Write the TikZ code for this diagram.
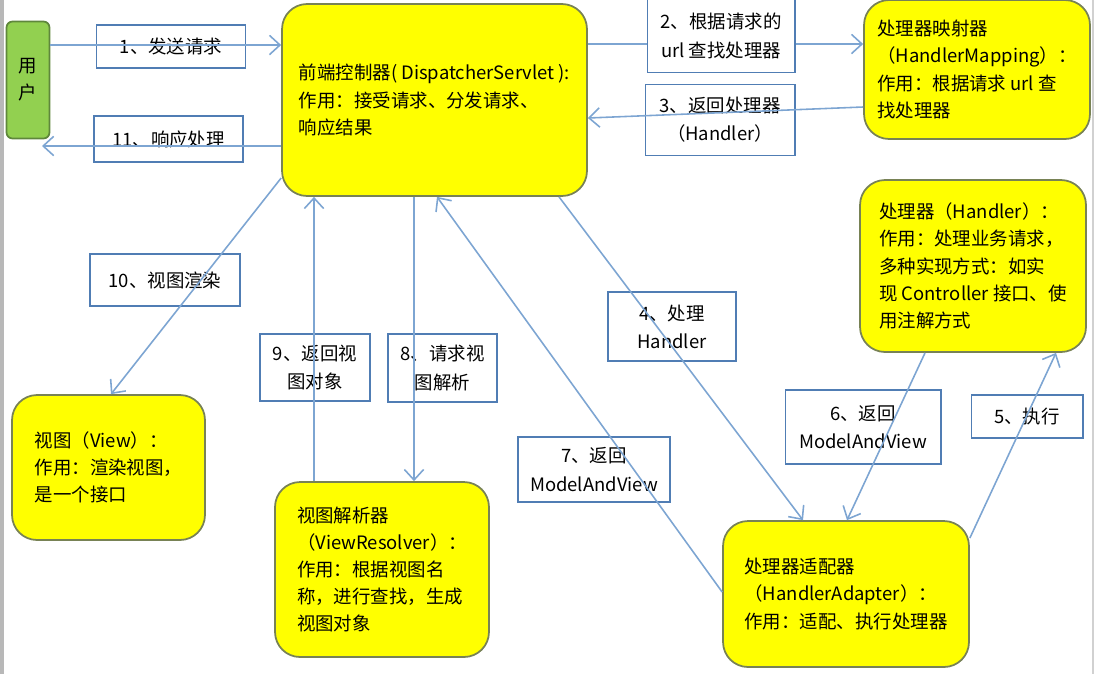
\documentclass[tikz,border=0pt]{standalone}
\usepackage{fontspec}
\setmainfont{Noto Sans CJK SC}
\usetikzlibrary{arrows.meta, positioning, calc}
\usepackage{xcolor}
\definecolor{giallo}{RGB}{255,255,0}
\definecolor{bordooliva}{RGB}{120,130,85}
\definecolor{verde}{RGB}{146,208,80}
\definecolor{bordoverde}{RGB}{95,135,60}
\definecolor{azzurro}{RGB}{125,165,210}
\definecolor{bluetta}{RGB}{80,125,180}

\begin{document}
\begin{tikzpicture}[
  x=0.02cm, y=-0.02cm,
  font=\fontsize{10.5}{15.5}\selectfont,
  componente/.style={draw=bordooliva, fill=giallo, line width=1pt, rounded corners=0.5cm,
                     align=left, inner sep=0pt},
  utente/.style={draw=bordoverde, fill=verde, line width=1pt, rounded corners=0.12cm,
                 align=center, inner sep=0pt, minimum width=0.86cm, minimum height=2.34cm},
  passo/.style={draw=bluetta, line width=0.6pt, align=center, inner sep=0pt,
                font=\fontsize{10.5}{16}\selectfont},
  freccia/.style={draw=azzurro, line width=0.9pt, -{Straight Barb[length=6pt,width=11pt]}}
]
\useasboundingbox (0,0) rectangle (1097,674);

% cornice
\fill[black!28] (0,0) rectangle (4,674);
\draw[black!18, line width=0.8pt] (1093,0) -- (1093,674);

% componenti
\node[utente] (U) at (28,80) {用\\户};
\node[componente, minimum width=6.10cm, minimum height=3.84cm] (DS) at (434.5,100)
  {前端控制器( DispatcherServlet ):\\作用：接受请求、分发请求、\\响应结果};
\node[componente, minimum width=4.52cm, minimum height=2.78cm] (HM) at (977,69.5)
  {处理器映射器\\（HandlerMapping）：\\作用：根据请求 url 查\\找处理器};
\node[componente, minimum width=4.52cm, minimum height=3.44cm] (H) at (973,266)
  {处理器（Handler）：\\作用：处理业务请求，\\多种实现方式：如实\\现 Controller 接口、使\\用注解方式};
\node[componente, minimum width=3.86cm, minimum height=2.90cm] (V) at (108.5,467.5)
  {视图（View）：\\作用：渲染视图，\\是一个接口};
\node[componente, minimum width=4.28cm, minimum height=3.50cm] (VR) at (382,569.5)
  {视图解析器\\（ViewResolver）：\\作用：根据视图名\\称，进行查找，生成\\视图对象};
\node[componente, minimum width=4.92cm, minimum height=2.92cm] (HA) at (846,594)
  {处理器适配器\\（HandlerAdapter）：\\作用：适配、执行处理器};

% passi
\node[passo, minimum width=2.98cm, minimum height=0.86cm] (p1) at (171,46.5) {1、发送请求};
\node[passo, minimum width=2.98cm, minimum height=0.92cm] (p11) at (168.5,139) {11、响应处理};
\node[passo, fill=white, minimum width=2.96cm, minimum height=1.46cm] (p2) at (721,36) {2、根据请求的\\url 查找处理器};
\node[passo, minimum width=3.00cm, minimum height=1.42cm] (p3) at (720,120) {3、返回处理器\\（Handler）};
\node[passo, minimum width=2.56cm, minimum height=1.38cm] (p4) at (672,326.5) {4、处理\\Handler};
\node[passo, minimum width=2.24cm, minimum height=0.86cm] (p5) at (1027,416.5) {5、执行};
\node[passo, minimum width=3.12cm, minimum height=1.48cm] (p6) at (863,427) {6、返回\\ModelAndView};
\node[passo, minimum width=3.04cm, minimum height=1.30cm] (p7) at (594,469.5) {7、返回\\ModelAndView};
\node[passo, minimum width=2.18cm, minimum height=1.36cm] (p8) at (442.5,368) {8、请求视\\图解析};
\node[passo, minimum width=2.20cm, minimum height=1.34cm] (p9) at (315,367.5) {9、返回视\\图对象};
\node[passo, minimum width=3.00cm, minimum height=1.04cm] (p10) at (165,280) {10、视图渲染};

% collegamenti
\coordinate (ritorno) at (42,146);
\draw[freccia] (U.east |- 0,45) -- (DS.west |- 0,45);
\draw[freccia] (DS.west |- 0,146) -- (ritorno);
\draw[draw=azzurro, line width=0.9pt] (DS.east |- 0,44) -- (p2.west |- 0,44);
\draw[freccia] (p2.east |- 0,44) -- (HM.west |- 0,44);
\draw[freccia] (HM.west |- 0,107) -- (DS.east |- 0,118);
\draw[freccia] (DS.south -| 559,0) -- (HA.north -| 803,0);
\draw[freccia] (HA.east |- 0,538) -- (H.south -| 1056,0);
\draw[freccia] (H.south -| 925,0) -- (HA.north -| 847,0);
\draw[freccia] (HA.west |- 0,592) -- (DS.south -| 437,0);
\draw[freccia] (DS.south -| 414,0) -- (VR.north -| 414,0);
\draw[freccia] (VR.north -| 314,0) -- (DS.south -| 314,0);
\draw[freccia] (DS.west |- 0,178) -- (V.north -| 111,0);

\end{tikzpicture}
\end{document}
